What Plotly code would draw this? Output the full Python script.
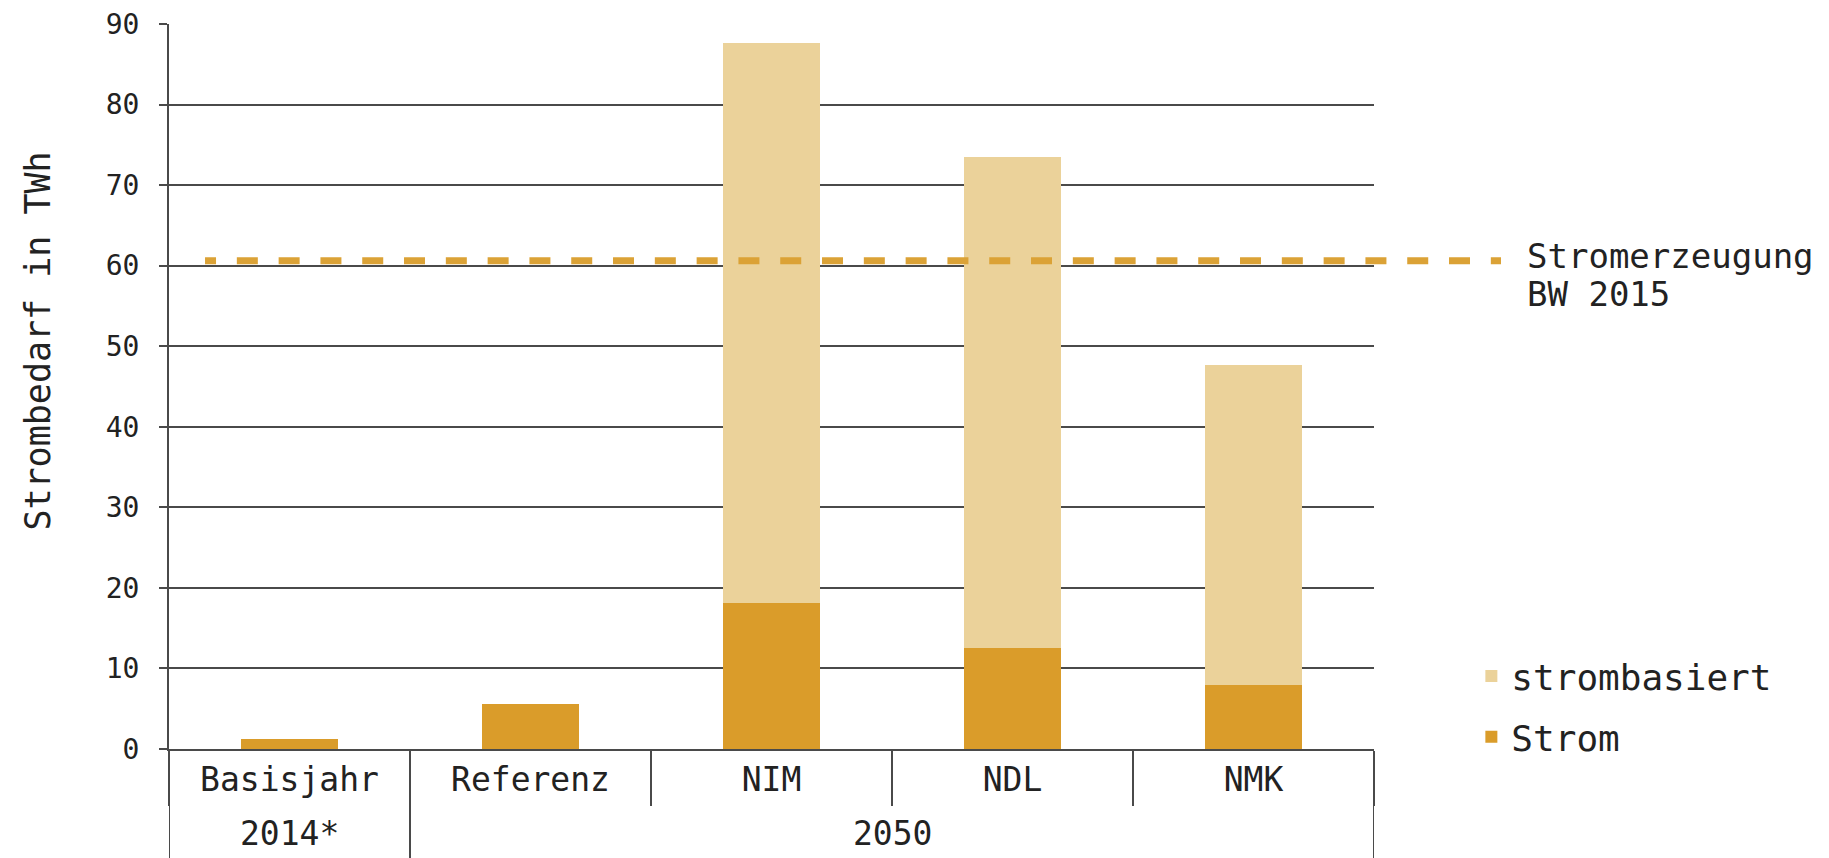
import plotly.graph_objects as go

# ---- data ----
groups = ["2014*", "2050", "2050", "2050", "2050"]
categories = ["Basisjahr", "Referenz", "NIM", "NDL", "NMK"]
strom = [1.3, 5.6, 18.1, 12.5, 7.9]
strombasiert = [None, None, 69.5, 61.0, 39.8]
stromerzeugung_bw_2015 = 60.6
ref_label_lines = ["Stromerzeugung", "BW 2015"]
y_ticks = [0, 10, 20, 30, 40, 50, 60, 70, 80, 90]

C_STROM = "#DA9C2A"
C_BASIERT = "#EBD29A"
C_LINE = "#DBA236"
TXT = "#222222"
GRID = "#4a4a4a"
FONT = "DejaVu Sans Mono"

fig = go.Figure()
fig.add_trace(go.Bar(
    x=categories, y=strom, name="Strom",
    marker=dict(color=C_STROM, line=dict(width=0)), width=0.4,
    legendgroup="b", legendrank=2,
))
fig.add_trace(go.Bar(
    x=categories, y=strombasiert, name="strombasiert",
    marker=dict(color=C_BASIERT, line=dict(width=0)), width=0.4,
    legendgroup="a", legendrank=1,
))

# group labels and group dividers (second level of the x axis)
group_names = []
for g in groups:
    if g not in group_names:
        group_names.append(g)
for g in group_names:
    idx = [i for i, gg in enumerate(groups) if gg == g]
    fig.add_annotation(
        xref="x", yref="paper", x=sum(idx) / len(idx), y=-0.117,
        text=g, showarrow=False, xanchor="center", yanchor="middle",
        font=dict(family=FONT, size=33, color=TXT),
    )
bounds = [-0.5] + [i - 0.5 for i in range(1, len(groups)) if groups[i] != groups[i - 1]] + [len(groups) - 0.5]
for b in bounds:
    fig.add_shape(
        type="line", xref="x", yref="paper", x0=b, x1=b, y0=0, y1=-0.2,
        line=dict(color=GRID, width=2), layer="above",
    )

# reference line (Stromerzeugung BW 2015)
fig.add_shape(
    type="line", xref="paper", yref="y",
    x0=0.0299, x1=1.1054, y0=stromerzeugung_bw_2015, y1=stromerzeugung_bw_2015,
    line=dict(color=C_LINE, width=7, dash="11px,20.8px,10px,0px"), layer="above",
)
for k, (line_txt, shift) in enumerate(zip(ref_label_lines, [5, -33])):
    fig.add_annotation(
        xref="paper", yref="y", x=1.125, y=stromerzeugung_bw_2015,
        text=line_txt, showarrow=False,
        xanchor="left", yanchor="middle", align="left", yshift=shift,
        font=dict(family=FONT, size=34, color=TXT),
    )
fig.add_annotation(
    xref="paper", yref="paper", x=-0.1095, y=0.562,
    text="Strombedarf in TWh", textangle=-90, showarrow=False,
    xanchor="center", yanchor="middle",
    font=dict(family=FONT, size=35, color=TXT),
)

fig.update_layout(
    width=1829, height=858,
    margin=dict(l=169, r=455, t=24, b=109),
    paper_bgcolor="white", plot_bgcolor="white",
    barmode="stack",
    showlegend=True,
    legend=dict(
        x=1.0808, y=0.142, xanchor="left", yanchor="top",
        traceorder="grouped", tracegroupgap=11,
        font=dict(family=FONT, size=36, color=TXT),
        bgcolor="rgba(0,0,0,0)",
    ),
    xaxis=dict(
        type="category", automargin=False,
        showline=True, linecolor=GRID, linewidth=2,
        ticks="outside", tickson="boundaries", ticklen=55, tickcolor=GRID, tickwidth=2,
        tickfont=dict(family=FONT, size=33, color=TXT),
        showgrid=False, range=[-0.5, len(categories) - 0.5],
    ),
    yaxis=dict(
        range=[0, 90], tickvals=y_ticks, automargin=False,
        showgrid=True, gridcolor=GRID, gridwidth=2,
        showline=True, linecolor=GRID, linewidth=2,
        ticks="outside", ticklen=8, tickcolor=GRID, tickwidth=2,
        ticklabelstandoff=14,
        tickfont=dict(family=FONT, size=28, color=TXT),
        zeroline=False,
    ),
)

fig.write_html("out.html")
